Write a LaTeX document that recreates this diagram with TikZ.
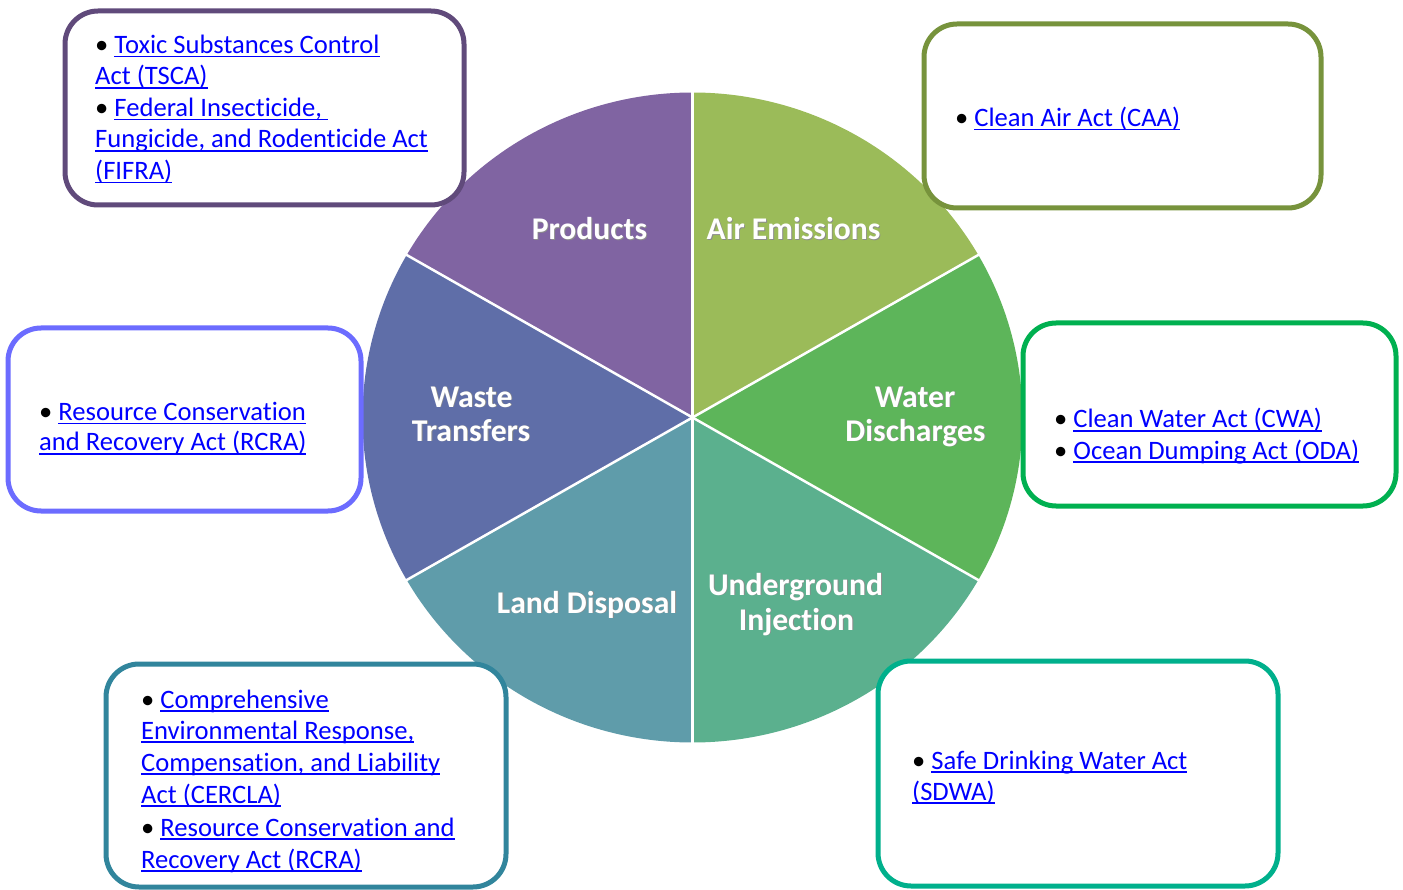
\documentclass[tikz,border=0pt]{standalone}
\usepackage{fontspec}
\setmainfont{Carlito}[Ligatures=NoCommon]
\definecolor{linkblue}{HTML}{0000FF}
\definecolor{cProd}{HTML}{8064A2}
\definecolor{cAir}{HTML}{9BBB59}
\definecolor{cWater}{HTML}{5DB55A}
\definecolor{cUnder}{HTML}{5BB08E}
\definecolor{cLand}{HTML}{5F9CAA}
\definecolor{cWaste}{HTML}{5F6EA8}
\definecolor{bPurple}{HTML}{604A7B}
\definecolor{bOlive}{HTML}{77933C}
\definecolor{bBlue}{HTML}{6C6CFF}
\definecolor{bGreen}{HTML}{00B050}
\definecolor{bTeal}{HTML}{31859C}
\definecolor{bSea}{HTML}{00B08C}
\newcommand\lk[1]{\setbox0\hbox{\color{linkblue}#1}\rlap{\color{linkblue}\rule[-4pt]{\wd0}{1.7pt}}\box0}
\newcommand\plab[4]{%
  \node[plabsh, xshift=0.9pt, yshift=-0.9pt] (#1s) at (#2,#3) {#4};
  \node[plab] (#1) at (#2,#3) {#4};}
\tikzset{
  lawbox/.style={rectangle, rounded corners=33pt, line width=5pt, fill=white, inner sep=0pt},
  lawline/.style={anchor=base west, inner sep=0pt, font=\fontsize{26.6}{31.5}\selectfont},
  plab/.style={anchor=base, inner sep=0pt, text=white, font=\bfseries\fontsize{31.6}{34}\selectfont},
  plabsh/.style={plab, text=black!45},
  sep/.style={white, line width=2.5pt},
  sector/.style={x radius=330, y radius=325}
}
\begin{document}
\begin{tikzpicture}[x=1pt, y=-1pt]
\useasboundingbox (0,0) rectangle (1403,890);
% pie
\begin{scope}[shift={(692.5,417.5)}, y=1pt]
  \fill[cAir]   (0,0) -- (30:330 and 325)  arc[sector, start angle=30,  end angle=90] -- cycle;
  \fill[cProd]  (0,0) -- (90:330 and 325)  arc[sector, start angle=90,  end angle=150] -- cycle;
  \fill[cWaste] (0,0) -- (150:330 and 325) arc[sector, start angle=150, end angle=210] -- cycle;
  \fill[cLand]  (0,0) -- (210:330 and 325) arc[sector, start angle=210, end angle=270] -- cycle;
  \fill[cUnder] (0,0) -- (270:330 and 325) arc[sector, start angle=270, end angle=330] -- cycle;
  \fill[cWater] (0,0) -- (330:330 and 325) arc[sector, start angle=330, end angle=390] -- cycle;
  \foreach \a in {30,90,150,210,270,330} \draw[sep] (0,0) -- (\a:331 and 326);
\end{scope}
% pie labels
\plab{pProd}{589.5}{240}{Products}
\plab{pAir}{793.5}{240}{Air Emissions}
\plab{pWaste1}{471.5}{407}{Waste}
\plab{pWaste2}{471}{441}{Transfers}
\plab{pWater1}{915}{407}{Water}
\plab{pWater2}{915.5}{441}{Discharges}
\plab{pLand}{587}{613}{Land Disposal}
\plab{pUnder1}{795.5}{595}{Underground}
\plab{pUnder2}{796.5}{630}{Injection}
% boxes
\node[lawbox, draw=bPurple, minimum width=399pt, minimum height=194pt] (b1) at (264.5,108) {};
\node[lawbox, draw=bOlive,  minimum width=397pt, minimum height=184pt] (b2) at (1122.5,116) {};
\node[lawbox, draw=bBlue,   minimum width=353pt, minimum height=183pt] (b3) at (184.5,419.5) {};
\node[lawbox, draw=bGreen,  minimum width=373pt, minimum height=183pt] (b4) at (1209.5,414.5) {};
\node[lawbox, draw=bTeal,   minimum width=400pt, minimum height=223pt] (b5) at (306,775.5) {};
\node[lawbox, draw=bSea,    minimum width=400pt, minimum height=225pt] (b6) at (1078,773.5) {};
% box 1
\node[lawline] (t1a) at (95,53.5)  {•\ \lk{Toxic Substances Control}};
\node[lawline] (t1b) at (95,85)  {\lk{Act (TSCA)}};
\node[lawline] (t1c) at (95,116.5) {•\ \lk{Federal Insecticide,\ }};
\node[lawline] (t1d) at (95,148) {\lk{Fungicide, and Rodenticide Act}};
\node[lawline] (t1e) at (95,179.5) {\lk{(FIFRA)}};
% box 2
\node[lawline] (t2a) at (955,126.5) {•\ \lk{Clean Air Act (CAA)}};
% box 3
\node[lawline] (t3a) at (39,420.5) {•\ \lk{Resource Conservation}};
\node[lawline] (t3b) at (39,450.5) {\lk{and Recovery Act (RCRA)}};
% box 4
\node[lawline] (t4a) at (1054,428) {•\ \lk{Clean Water Act (CWA)}};
\node[lawline] (t4b) at (1054,459) {•\ \lk{Ocean Dumping Act (ODA)}};
% box 5
\node[lawline] (t5a) at (141,708) {•\ \lk{Comprehensive}};
\node[lawline] (t5b) at (141,739) {\lk{Environmental Response,}};
\node[lawline] (t5c) at (141,771) {\lk{Compensation, and Liability}};
\node[lawline] (t5d) at (141,803) {\lk{Act (CERCLA)}};
\node[lawline] (t5e) at (141,836) {•\ \lk{Resource Conservation and}};
\node[lawline] (t5f) at (141,868) {\lk{Recovery Act (RCRA)}};
% box 6
\node[lawline] (t6a) at (912,769) {•\ \lk{Safe Drinking Water Act}};
\node[lawline] (t6b) at (912,800) {\lk{(SDWA)}};
\end{tikzpicture}
\end{document}
